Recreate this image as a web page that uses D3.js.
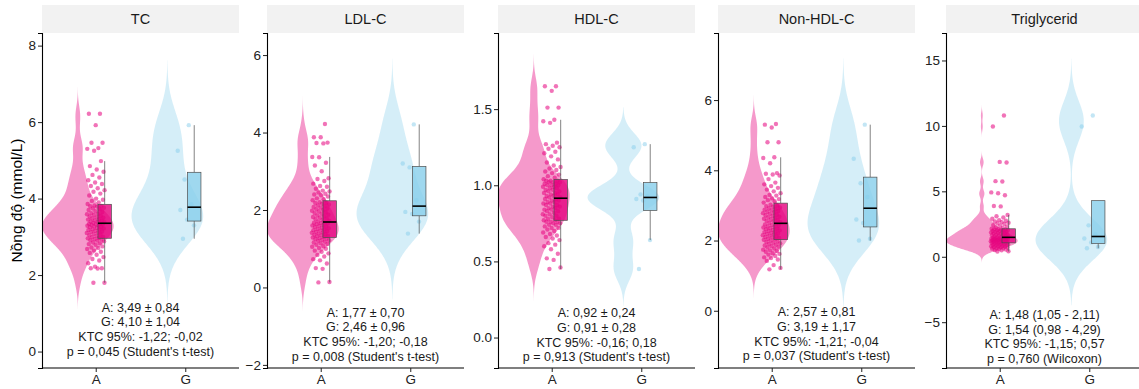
<!DOCTYPE html>
<html>
<head>
<meta charset="utf-8">
<script src="https://cdn.jsdelivr.net/npm/d3@7"></script>
<style>
  body { margin: 0; background: #fff; }
  text { font-family: "Liberation Sans", Arial, sans-serif; }
</style>
</head>
<body>
<svg id="chart" width="1139" height="389"></svg>
<script>
// facets and groups
const panels = ["TC", "LDL-C", "HDL-C", "Non-HDL-C", "Triglycerid"];
const groups = ["A", "G"];

// group A values (mmol/L)
const tcA = [1.8,1.8,2.17,2.18,2.18,2.22,2.31,2.38,2.42,2.47,2.53,2.58,2.61,2.64,2.68,2.71,2.72,2.75,2.79,2.81,2.83,2.85,2.88,2.9,2.91,2.93,2.94,
  2.96,2.97,2.99,3.0,3.02,3.04,3.06,3.08,3.1,3.11,3.13,3.14,3.16,3.18,3.19,3.2,3.22,3.23,3.25,3.26,3.27,3.29,3.3,3.31,3.32,3.33,3.34,3.35,
  3.36,3.38,3.39,3.4,3.42,3.43,3.45,3.46,3.48,3.5,3.51,3.53,3.55,3.57,3.59,3.6,3.62,3.65,3.67,3.7,3.72,3.74,3.76,3.79,3.8,3.81,3.82,
  3.86,3.9,3.94,3.97,4.0,4.08,4.13,4.18,4.22,4.27,4.33,4.38,4.42,4.48,4.55,4.62,4.7,4.76,4.85,4.98,5.25,5.3,5.32,5.46,5.46,5.92,6.22,6.22];
const ldlA = [0.13,0.14,0.48,0.5,0.62,0.7,0.73,0.8,0.84,0.88,0.92,0.95,1.0,1.02,1.05,1.07,1.1,1.12,1.14,1.16,1.18,1.2,1.22,1.23,1.25,1.26,1.27,
  1.29,1.3,1.32,1.33,1.35,1.36,1.38,1.39,1.41,1.42,1.44,1.45,1.47,1.48,1.5,1.51,1.53,1.54,1.56,1.57,1.59,1.6,1.62,1.63,1.65,1.66,1.67,1.68,
  1.7,1.72,1.74,1.76,1.78,1.8,1.82,1.84,1.86,1.88,1.9,1.92,1.94,1.96,1.98,2.0,2.02,2.04,2.06,2.08,2.1,2.12,2.14,2.16,2.18,2.19,2.2,
  2.25,2.28,2.3,2.35,2.38,2.4,2.42,2.45,2.48,2.5,2.55,2.6,2.62,2.68,2.75,2.8,2.82,3.0,3.15,3.22,3.36,3.37,3.72,3.73,3.74,3.88,3.88,4.22];
const hdlA = [0.45,0.46,0.51,0.52,0.55,0.58,0.6,0.61,0.62,0.64,0.65,0.66,0.67,0.68,0.69,0.7,0.71,0.72,0.72,0.73,0.74,0.74,0.75,0.75,0.76,0.76,0.76,
  0.77,0.77,0.78,0.78,0.79,0.8,0.8,0.81,0.81,0.82,0.83,0.83,0.84,0.84,0.85,0.85,0.86,0.86,0.87,0.87,0.88,0.88,0.89,0.89,0.9,0.9,0.91,0.91,
  0.92,0.92,0.93,0.93,0.94,0.94,0.95,0.95,0.96,0.96,0.97,0.97,0.98,0.98,0.99,0.99,1.0,1.0,1.0,1.01,1.01,1.02,1.02,1.02,1.03,1.03,1.03,
  1.04,1.05,1.06,1.07,1.08,1.09,1.1,1.11,1.12,1.13,1.15,1.17,1.19,1.21,1.22,1.24,1.25,1.26,1.27,1.28,1.41,1.42,1.43,1.51,1.51,1.62,1.65,1.65];
const nonHdlA = [1.18,1.22,1.3,1.42,1.46,1.5,1.52,1.56,1.6,1.62,1.64,1.68,1.7,1.72,1.74,1.77,1.8,1.82,1.84,1.86,1.88,1.9,1.92,1.94,1.96,1.98,2.0,
  2.02,2.04,2.05,2.07,2.09,2.1,2.12,2.14,2.15,2.17,2.19,2.2,2.22,2.24,2.25,2.27,2.29,2.3,2.32,2.34,2.35,2.37,2.39,2.4,2.42,2.44,2.46,2.48,
  2.5,2.52,2.54,2.56,2.58,2.6,2.62,2.64,2.66,2.68,2.7,2.72,2.74,2.76,2.78,2.8,2.82,2.84,2.86,2.88,2.9,2.92,2.94,2.96,2.98,3.0,3.02,
  3.08,3.12,3.15,3.18,3.2,3.24,3.28,3.3,3.35,3.4,3.45,3.5,3.55,3.6,3.65,3.75,3.85,3.88,3.9,3.92,4.2,4.35,4.37,4.8,4.8,5.22,5.3,5.32];
const tgA = [0.4,0.42,0.5,0.52,0.55,0.6,0.62,0.64,0.66,0.7,0.72,0.74,0.76,0.78,0.8,0.82,0.84,0.86,0.88,0.9,0.92,0.94,0.96,0.98,1.0,1.02,1.04,
  1.06,1.08,1.1,1.11,1.13,1.14,1.16,1.17,1.19,1.2,1.22,1.23,1.25,1.26,1.28,1.29,1.31,1.32,1.34,1.35,1.37,1.38,1.4,1.41,1.43,1.44,1.46,1.47,
  1.5,1.52,1.55,1.57,1.6,1.62,1.65,1.67,1.7,1.72,1.75,1.77,1.8,1.82,1.85,1.87,1.9,1.92,1.95,1.97,2.0,2.02,2.04,2.06,2.08,2.09,2.1,
  2.15,2.2,2.25,2.3,2.38,2.42,2.5,2.55,2.6,2.65,2.7,2.75,2.8,2.9,3.0,3.1,3.2,3.85,3.88,4.7,4.85,4.92,5.75,5.78,7.2,7.25,9.95,10.8];

// group G values
const tcG = [2.95, 3.3, 3.45, 3.7, 3.85, 4.5, 5.25, 5.92];
const ldlG = [1.39, 1.7, 1.9, 1.95, 2.25, 3.1, 3.2, 4.21];
const hdlG = [0.45, 0.64, 0.9, 0.91, 0.93, 0.94, 1.25, 1.27];
const nonHdlG = [2.0, 2.05, 2.5, 2.6, 3.24, 3.63, 4.33, 5.3];
const tgG = [0.65, 0.75, 1.1, 1.4, 1.7, 2.4, 9.95, 10.8];

const valuesA = [tcA, ldlA, hdlA, nonHdlA, tgA];
const valuesG = [tcG, ldlG, hdlG, nonHdlG, tgG];

// y scales (free per facet) and tick labels
const yDomains = [[-0.43, 8.33], [-2.08, 6.57], [-0.2, 2.0], [-1.63, 7.91], [-8.5, 17.1]];
const yTicks = [[0, 2, 4, 6, 8], [-2, 0, 2, 4, 6], [0, 0.5, 1, 1.5], [0, 2, 4, 6], [-5, 0, 5, 10, 15]];

// annotation text
const textA = ["A: 3,49 ± 0,84", "A: 1,77 ± 0,70", "A: 0,92 ± 0,24", "A: 2,57 ± 0,81", "A: 1,48 (1,05 - 2,11)"];
const textG = ["G: 4,10 ± 1,04", "G: 2,46 ± 0,96", "G: 0,91 ± 0,28", "G: 3,19 ± 1,17", "G: 1,54 (0,98 - 4,29)"];
const textCI = ["KTC 95%: -1,22; -0,02", "KTC 95%: -1,20; -0,18", "KTC 95%: -0,16; 0,18", "KTC 95%: -1,21; -0,04", "KTC 95%: -1,15; 0,57"];
const textP = ["p = 0,045 (Student's t-test)", "p = 0,008 (Student's t-test)", "p = 0,913 (Student's t-test)",
  "p = 0,037 (Student's t-test)", "p = 0,760 (Wilcoxon)"];
const labelY = [0.58, -1.21, 0.018, -0.66, -6.1];

const colors = { A: "#e5007e", G: "#87ceeb" };

// layout
const svg = d3.select("#chart");
const W = 197, plotTop = 33, plotBottom = 368;
const panelLeft = [42, 267, 498, 718, 946];

function density(values) {
  const s = values.slice().sort(d3.ascending);
  const n = s.length;
  const sd = d3.deviation(s);
  const iqr = d3.quantileSorted(s, 0.75) - d3.quantileSorted(s, 0.25);
  const bw = 0.9 * Math.min(sd, iqr / 1.34) * Math.pow(n, -0.2);
  const lo = s[0] - 3 * bw, hi = s[n - 1] + 3 * bw;
  const grid = d3.range(512).map(i => lo + (hi - lo) * i / 511);
  const dens = grid.map(t => [t, d3.sum(s, v => Math.exp(-0.5 * ((t - v) / bw) ** 2))]);
  const m = d3.max(dens, d => d[1]);
  return dens.map(d => [d[0], d[1] / m]);
}

function boxStats(values) {
  const s = values.slice().sort(d3.ascending);
  const q1 = d3.quantileSorted(s, 0.25), med = d3.quantileSorted(s, 0.5), q3 = d3.quantileSorted(s, 0.75);
  const iqr = q3 - q1;
  const lo = d3.min(s.filter(v => v >= q1 - 1.5 * iqr));
  const hi = d3.max(s.filter(v => v <= q3 + 1.5 * iqr));
  return { q1, med, q3, lo: Math.min(lo, q1), hi: Math.max(hi, q3) };
}

// golden-ratio jitter, deterministic
const jitter = i => ((i * 0.6180339887 + 0.37) % 1) - 0.5;

// y axis title
svg.append("text")
  .attr("transform", "translate(22," + (plotTop + plotBottom) / 2 + ") rotate(-90)")
  .attr("text-anchor", "middle")
  .attr("font-size", 15.5)
  .attr("fill", "#000")
  .text("Nồng độ (mmol/L)");

panels.forEach((name, p) => {
  const x = d3.scaleLinear().domain([0.4, 2.6]).range([0, W]);
  const y = d3.scaleLinear().domain(yDomains[p]).range([plotBottom - plotTop, 0]);
  const g = svg.append("g").attr("transform", "translate(" + panelLeft[p] + "," + plotTop + ")");

  g.append("clipPath").attr("id", "clip" + p)
    .append("rect").attr("width", W).attr("height", plotBottom - plotTop);
  const plot = g.append("g").attr("clip-path", "url(#clip" + p + ")");

  const data = { A: valuesA[p], G: valuesG[p] };

  // half-dodged violins
  groups.forEach((grp, gi) => {
    const cx = gi + 1 - 0.2;
    const half = x(0.4 + 0.4) - x(0.4);
    const area = d3.area()
      .x0(d => x(cx) - d[1] * half)
      .x1(d => x(cx) + d[1] * half)
      .y(d => y(d[0]));
    plot.append("path")
      .datum(density(data[grp]))
      .attr("d", area)
      .attr("fill", colors[grp])
      .attr("fill-opacity", grp === "A" ? 0.4 : 0.35);
  });

  // jittered points
  groups.forEach((grp, gi) => {
    plot.append("g").selectAll("circle")
      .data(data[grp])
      .join("circle")
      .attr("cx", (d, i) => x(gi + 1 + jitter(i) * 0.2))
      .attr("cy", d => y(d))
      .attr("r", 2.2)
      .attr("fill", colors[grp])
      .attr("fill-opacity", grp === "A" ? 0.55 : 0.5);
  });

  // boxplots nudged right
  groups.forEach((grp, gi) => {
    const b = boxStats(data[grp]);
    const bx = gi + 1 + 0.1;
    const bw = x(0.4 + 0.075) - x(0.4);
    const bg = plot.append("g");
    bg.append("line")
      .attr("x1", x(bx)).attr("x2", x(bx))
      .attr("y1", y(b.lo)).attr("y2", y(b.q1))
      .attr("stroke", "#4d4d4d").attr("stroke-width", 0.7);
    bg.append("line")
      .attr("x1", x(bx)).attr("x2", x(bx))
      .attr("y1", y(b.q3)).attr("y2", y(b.hi))
      .attr("stroke", "#4d4d4d").attr("stroke-width", 0.7);
    bg.append("rect")
      .attr("x", x(bx) - bw).attr("width", 2 * bw)
      .attr("y", y(b.q3)).attr("height", y(b.q1) - y(b.q3))
      .attr("fill", colors[grp]).attr("fill-opacity", 0.8)
      .attr("stroke", "#4d4d4d").attr("stroke-width", 0.7);
    bg.append("line")
      .attr("x1", x(bx) - bw).attr("x2", x(bx) + bw)
      .attr("y1", y(b.med)).attr("y2", y(b.med))
      .attr("stroke", "#000").attr("stroke-width", 1.6);
  });

  // stats annotation
  const lines = [textA[p], textG[p], textCI[p], textP[p]];
  g.append("g").selectAll("text")
    .data(lines)
    .join("text")
    .attr("x", x(1.5))
    .attr("y", (d, i) => y(labelY[p]) + (i - 1.5) * 14.7)
    .attr("dy", "0.35em")
    .attr("text-anchor", "middle")
    .attr("font-size", 12.5)
    .attr("fill", "#1a1a1a")
    .text(d => d);

  // axes
  const yAxis = d3.axisLeft(y).tickValues(yTicks[p]).tickSize(4).tickPadding(2)
    .tickFormat(p === 2 ? d3.format(".1f") : d3.format("d"));
  const ya = g.append("g").call(yAxis);
  const xAxis = d3.axisBottom(d3.scalePoint().domain(groups).range([x(1), x(2)]))
    .tickSize(4).tickPadding(2);
  const xa = g.append("g").attr("transform", "translate(0," + (plotBottom - plotTop) + ")").call(xAxis);
  xa.select(".domain").attr("d", "M0,0H" + W);
  [ya, xa].forEach(a => {
    a.select(".domain").attr("stroke", "#000").attr("stroke-width", 1.1);
    a.selectAll(".tick line").attr("stroke", "#222").attr("stroke-width", 1);
    a.selectAll(".tick text").attr("font-size", 13.5).attr("fill", "#222")
      .style("font-family", "'Liberation Sans', Arial, sans-serif");
  });

  // facet strip
  svg.append("rect")
    .attr("x", panelLeft[p]).attr("y", 5)
    .attr("width", W).attr("height", plotTop - 5)
    .attr("fill", "#f2f2f2");
  svg.append("text")
    .attr("x", panelLeft[p] + W / 2).attr("y", 19)
    .attr("dy", "0.35em")
    .attr("text-anchor", "middle")
    .attr("font-size", 14.5)
    .attr("fill", "#1a1a1a")
    .text(name);
});
</script>
</body>
</html>
